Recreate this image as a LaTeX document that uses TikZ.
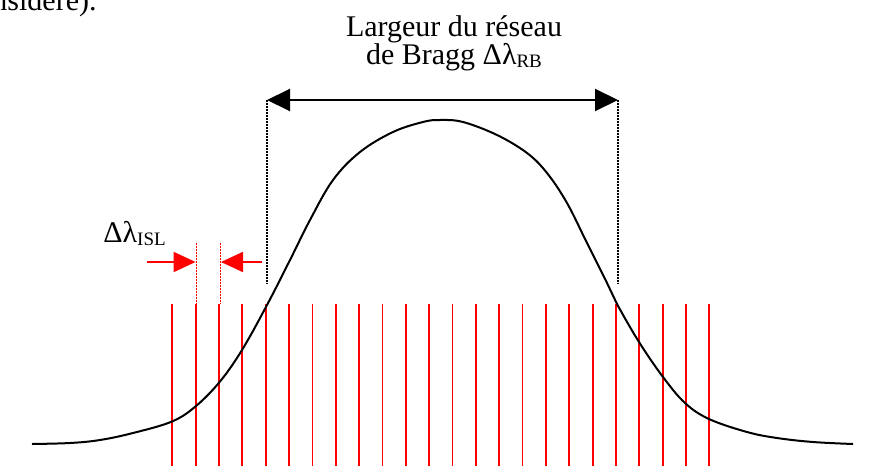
\documentclass[tikz,border=0pt]{standalone}
\usepackage{fontspec}
\setmainfont{Liberation Serif}
\usetikzlibrary{arrows.meta}
\newcommand{\dlsub}[1]{Δλ\raisebox{-1.5pt}{\fontsize{9.5}{9.5}\selectfont #1}}

\begin{document}
\begin{tikzpicture}[
  x=0.5pt, y=-0.5pt,
  lbl/.style={inner sep=0pt,font=\fontsize{15}{14}\selectfont},
  curve/.style={line width=1pt,black,line join=round},
  comb/.style={line width=0.9pt,red},
  combdot/.style={line width=0.8pt,red,dash pattern=on 0.75pt off 0.75pt},
  guide/.style={line width=0.8pt,black,dash pattern=on 0.75pt off 0.75pt},
  span/.style={{Triangle[length=11.5pt,width=11pt]}-{Triangle[length=11.5pt,width=11pt]},line width=1pt},
  isl/.style={-{Triangle[length=11pt,width=10pt]},line width=0.9pt,red}
]
  \useasboundingbox (0,0) rectangle (886,465);
  \clip (0,0) rectangle (886,465);

  % texte coupe en haut
  \node[lbl,anchor=base east] (prev) at (97,11) {nsidère).};

  % peigne de Fabry-Perot
  \foreach \i in {0,...,23}
    \draw[comb] ({172.3+\i*23.35},304) -- ++(0,170);
  \draw[combdot] (196.3,243) -- (196.3,304);
  \draw[combdot] (220.3,243) -- (220.3,304);

  % spectre du reseau de Bragg
  \draw[curve] plot[smooth,tension=0.6] coordinates {
    (32,444) (70,443) (100,440) (133,433) (172,421.5) (196,406) (220,381.5)
    (242,350) (267,305) (290,260) (310,220) (333,180) (360,152) (393,132)
    (423,122) (440,120) (463,122) (497,135) (527,153) (547,173) (567,203)
    (587,243) (607,283) (617,304) (639,342) (663,377) (685,403) (709,419)
    (747,432) (777,438) (813,442) (853,444)};

  % largeur du reseau
  \coordinate (rbL) at (267,100);
  \coordinate (rbR) at (618,100);
  \coordinate (footL) at (267,284);
  \coordinate (footR) at (618,284);
  \draw[guide] (rbL) -- (footL);
  \draw[guide] (rbR) -- (footR);
  \draw[span] (rbL) -- (rbR);

  \node[lbl,anchor=base] (titleA) at (454,37) {Largeur du réseau};
  \node[lbl,anchor=base] (titleB) at ([yshift=-14pt]titleA.base) {de Bragg \dlsub{RB}};

  % intervalle spectral libre
  \coordinate (islA) at (147,262);
  \coordinate (islTipA) at (195.6,262);
  \coordinate (islB) at (262,262);
  \coordinate (islTipB) at (221,262);
  \draw[isl] (islA) -- (islTipA);
  \draw[isl] (islB) -- (islTipB);

  \node[lbl,anchor=base west] (isl) at (103,242) {\dlsub{ISL}};
\end{tikzpicture}
\end{document}
